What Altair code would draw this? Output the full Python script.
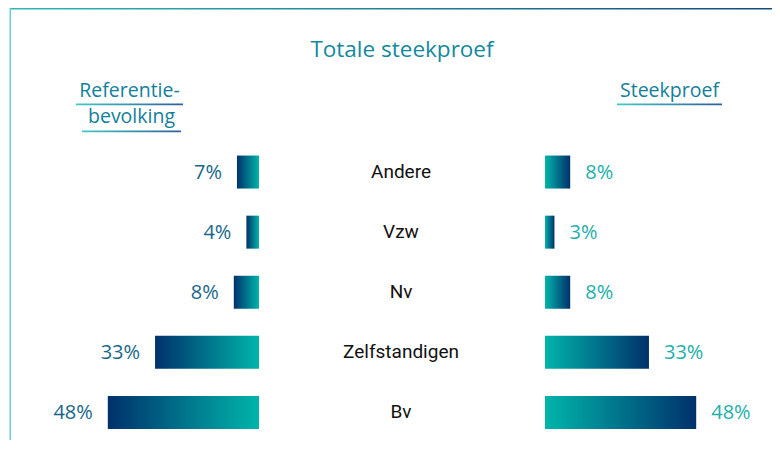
import altair as alt
import pandas as pd

# ---- data ----
categories = ["Andere", "Vzw", "Nv", "Zelfstandigen", "Bv"]
referentie = [7, 4, 8, 33, 48]
steekproef = [8, 3, 8, 33, 48]

df = pd.DataFrame({"cat": categories, "ref": referentie, "sam": steekproef})
df["ref_lbl"] = df["ref"].astype(str) + "%"
df["sam_lbl"] = df["sam"].astype(str) + "%"
one = pd.DataFrame({"a": [0]})

NAVY = "#00316b"
TEAL = "#00b5aa"
FONT = "Open Sans"


def grad(c0, c1):
    return alt.Gradient(
        gradient="linear",
        stops=[alt.GradientStop(color=c0, offset=0), alt.GradientStop(color=c1, offset=1)],
        x1=0, x2=1, y1=0, y2=0,
    )


yenc = alt.Y("cat:N", axis=None,
             scale=alt.Scale(domain=categories, range=[134, 434.5],
                             paddingInner=0.451, paddingOuter=0.2255))
left_scale = alt.Scale(domain=[0, 50], range=[251, 93.5], nice=False, zero=True)
right_scale = alt.Scale(domain=[0, 50], range=[537, 694.5], nice=False, zero=True)

# ---- decorations ----
frame_top = alt.Chart(one).mark_rect(color=grad("#2bb8b5", "#124c7c")).encode(
    x=alt.value(2), x2=alt.value(764), y=alt.value(0), y2=alt.value(1.6))
frame_left = alt.Chart(one).mark_rect(color="#62d3cf").encode(
    x=alt.value(1.5), x2=alt.value(3), y=alt.value(0), y2=alt.value(432))

title = alt.Chart(one).mark_text(text="Totale steekproef", font=FONT, fontSize=22.5,
                                 color="#14889c", align="center", baseline="alphabetic").encode(
    x=alt.value(394), y=alt.value(49))

HDR = "#13809a"
h1 = alt.Chart(one).mark_text(text="Referentie-", font=FONT, fontSize=19.5, color=HDR,
                              align="center", baseline="alphabetic").encode(
    x=alt.value(121.5), y=alt.value(89))
h2 = alt.Chart(one).mark_text(text="bevolking", font=FONT, fontSize=19.5, color=HDR,
                              align="center", baseline="alphabetic").encode(
    x=alt.value(123.5), y=alt.value(115))
h3 = alt.Chart(one).mark_text(text="Steekproef", font=FONT, fontSize=19.5, color=HDR,
                              align="center", baseline="alphabetic").encode(
    x=alt.value(661.5), y=alt.value(89))
ul_grad = grad("#40c8c4", "#2f5f96")
u1 = alt.Chart(one).mark_rect(color=ul_grad).encode(
    x=alt.value(68), x2=alt.value(175), y=alt.value(95.5), y2=alt.value(97.3))
u2 = alt.Chart(one).mark_rect(color=ul_grad).encode(
    x=alt.value(74), x2=alt.value(173), y=alt.value(122.5), y2=alt.value(124.3))
u3 = alt.Chart(one).mark_rect(color=ul_grad).encode(
    x=alt.value(609), x2=alt.value(714), y=alt.value(95.5), y2=alt.value(97.3))

# ---- bars ----
left_bars = alt.Chart(df).mark_bar(color=grad(NAVY, TEAL)).encode(
    y=yenc, x=alt.X("ref:Q", scale=left_scale, axis=None), x2=alt.datum(0))
right_bars = alt.Chart(df).mark_bar(color=grad(TEAL, NAVY)).encode(
    y=yenc, x=alt.X("sam:Q", scale=right_scale, axis=None), x2=alt.datum(0))

left_txt = alt.Chart(df).mark_text(align="right", baseline="middle", dx=-15, dy=1,
                                   font=FONT, fontSize=20, color="#17678a").encode(
    y=yenc, x=alt.X("ref:Q", scale=left_scale, axis=None), text="ref_lbl:N")
right_txt = alt.Chart(df).mark_text(align="left", baseline="middle", dx=15, dy=1,
                                    font=FONT, fontSize=20, color="#22afa9").encode(
    y=yenc, x=alt.X("sam:Q", scale=right_scale, axis=None), text="sam_lbl:N")
cat_txt = alt.Chart(df).mark_text(align="center", baseline="middle", font="Roboto",
                                  fontSize=19, color="#111111").encode(
    y=yenc, x=alt.value(393), text="cat:N")

chart = alt.layer(
    frame_top, frame_left, title, h1, h2, h3, u1, u2, u3,
    left_bars, right_bars, left_txt, right_txt, cat_txt,
).resolve_scale(x="independent").properties(
    width=764, height=432, autosize="none", padding=0
).configure_view(stroke=None)

chart.save("out.html", embed_options={"renderer": "svg", "actions": False})
